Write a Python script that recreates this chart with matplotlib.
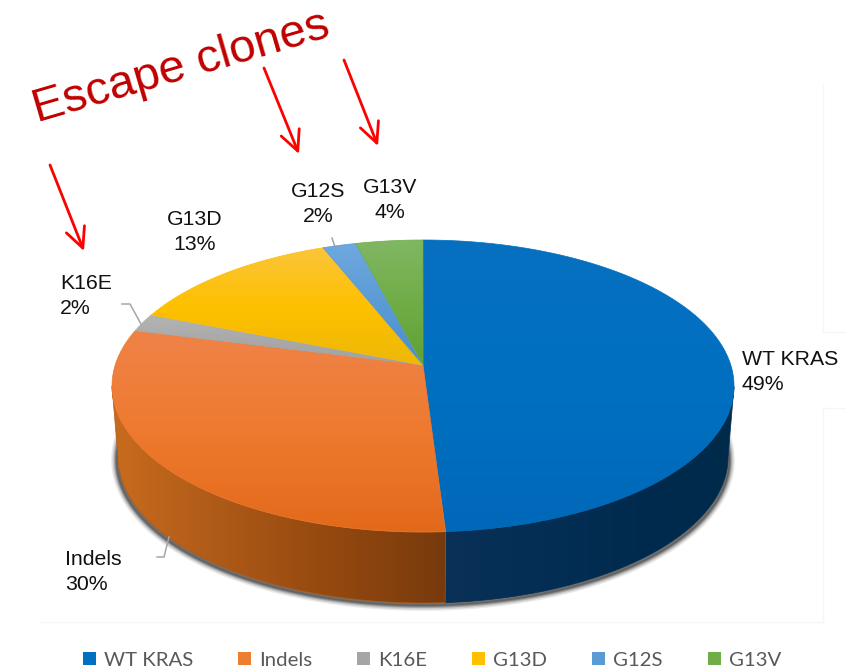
import numpy as np
import matplotlib
matplotlib.use("Agg")
import matplotlib.pyplot as plt
from matplotlib.colors import LinearSegmentedColormap, to_rgb
from matplotlib.patches import Patch, Polygon

plt.rcParams["font.family"] = ["Liberation Sans"]

# Share of clones per KRAS status, percent
categories = ["WT KRAS", "Indels", "K16E", "G13D", "G12S", "G13V"]
percents = [49, 30, 2, 13, 2, 4]

# Slice colours for the top face: light edge, mid, shaded edge
top_colors = [
    ["#076FC1", "#0070C0", "#0068B8"],
    ["#EF8348", "#EE7A2F", "#E3691A"],
    ["#B4B4B4", "#A9A9A9", "#A2A2A2"],
    ["#FBC53C", "#FFC000", "#EDB807"],
    ["#6FA8DF", "#5B9BD5", "#4C8DCB"],
    ["#80B763", "#70AD47", "#5FA034"],
]
legend_colors = ["#0070C0", "#ED7D31", "#A5A5A5", "#FFC000", "#5B9BD5", "#70AD47"]
side_colors = {
    0: ["#0A3158", "#042E54", "#002B4E", "#002A4A"],
    1: ["#C86C1E", "#AD5917", "#93480F", "#773A0D"],
}

# Pie geometry in figure pixels
CX, CY, RX, RY = 423.0, 386.0, 311.0, 146.0
DEPTH, BOTTOM_RX = 71.0, 305.0
TILT = 0.144  # how far the perspective lifts the hub above the ellipse centre


def project(frac):
    """Map a clockwise fraction of the turn to unit-ellipse coordinates."""
    t = 2 * np.pi * np.asarray(frac, dtype=float)
    u0, v0 = np.sin(t), np.cos(t)
    den = 1 + TILT * v0
    return u0 * np.sqrt(1 - TILT ** 2) / den, (v0 + TILT) / den


def rim(frac, rx=RX, dy=0.0):
    u, v = project(frac)
    return np.column_stack([CX + rx * u, CY + dy - RY * v])


def gradient_fill(ax, verts, stops, axis, zorder):
    """Fill a polygon with a linear colour ramp along x or y."""
    patch = Polygon(verts, closed=True, facecolor="none", edgecolor="none", zorder=zorder)
    ax.add_patch(patch)
    lo, hi = verts.min(axis=0), verts.max(axis=0)
    ramp = np.linspace(0, 1, 256)
    data = ramp[None, :] if axis == "x" else ramp[:, None]
    cmap = LinearSegmentedColormap.from_list("ramp", [to_rgb(c) for c in stops])
    img = ax.imshow(data, cmap=cmap, vmin=0, vmax=1, aspect="auto", origin="upper",
                    extent=(lo[0], hi[0], hi[1], lo[1]), zorder=zorder,
                    interpolation="bilinear")
    img.set_clip_path(patch)
    ax.add_patch(Polygon(verts, closed=True, fill=False, edgecolor=stops[1],
                         linewidth=0.5, zorder=zorder))


fig = plt.figure(figsize=(8.46, 6.71), dpi=100, facecolor="white")
ax = fig.add_axes([0, 0, 1, 1])

# Faint panel edges behind the chart
for xs, ys in [((823, 823), (85, 332)), ((823, 846), (332, 332)),
               ((823, 846), (408, 408)), ((823, 823), (408, 622)),
               ((40, 823), (622, 622))]:
    ax.plot(xs, ys, color="#F6F6F6", linewidth=1, zorder=0)

fractions = np.cumsum([0] + percents) / sum(percents)

# Soft drop shadow around the base of the pie
turn = np.linspace(0, 1, 721)
base = rim(turn, BOTTOM_RX + 2, DEPTH + 3)
for width, alpha in [(7, 0.12), (5, 0.2), (3, 0.34), (1.5, 0.5)]:
    ax.add_patch(Polygon(base, closed=True, facecolor="#5A5A5A", edgecolor="#5A5A5A",
                         linewidth=width, alpha=alpha, zorder=1))

# Front wall of the two slices that face the viewer
for i, stops in side_colors.items():
    f = np.linspace(fractions[i], fractions[i + 1], 300)
    f = f[project(f)[1] <= 0]
    upper = rim(f)
    lower = rim(f, BOTTOM_RX, DEPTH)
    verts = np.vstack([upper, lower[::-1]])
    gradient_fill(ax, verts, stops, "x", 2)

# Top face, one slice at a time
hub = np.array([[CX, CY - RY * TILT]])
for i in range(len(percents)):
    f = np.linspace(fractions[i], fractions[i + 1], 300)
    verts = np.vstack([hub, rim(f)])
    gradient_fill(ax, verts, top_colors[i], "y", 3)

# Leader lines
leaders = [
    ([122, 130, 141], [304, 304, 324]),
    ([332, 335], [238, 247]),
    ([157, 164, 169], [557, 557, 537]),
]
for xs, ys in leaders:
    ax.plot(xs, ys, color="#A6A6A6", linewidth=1.1, zorder=2)

# Slice labels
label_spots = {
    "WT KRAS": (742, 372, "left"),
    "Indels": (65, 572, "left"),
    "K16E": (60, 296, "left"),
    "G13D": (195, 232, "center"),
    "G12S": (318, 204, "center"),
    "G13V": (390, 200, "center"),
}
for name, pct in zip(categories, percents):
    x, y, ha = label_spots[name]
    ax.text(x, y, f"{name}\n{pct}%", ha=ha, va="center", multialignment=ha,
            fontsize=15.3, color="#111111", linespacing=1.38, zorder=5)

# Annotation heading and its arrows
ax.text(37, 122, "Escape clones", fontsize=34, color="#C00000", rotation=16.3,
        rotation_mode="anchor", ha="left", va="baseline", zorder=5)
arrows = [((50, 165), (84, 251)), ((264, 68), (299, 154)), ((344, 60), (378, 146))]
for start, tip in arrows:
    ax.annotate("", xy=tip, xytext=start, zorder=5,
                arrowprops=dict(arrowstyle="->,head_length=1.45,head_width=0.7",
                                mutation_scale=10, color="#FF0000", linewidth=2,
                                shrinkA=0, shrinkB=0))

# Legend strip along the bottom
handles = [Patch(facecolor=c, edgecolor="none", label=n)
           for c, n in zip(legend_colors, categories)]
leg = ax.legend(handles=handles, ncol=6, loc="center", frameon=False,
                bbox_to_anchor=(432 / 846, 1 - 660 / 671),
                prop=dict(family="Lato", size=14.7), labelcolor="#595959",
                handlelength=0.64, handleheight=0.64, handletextpad=0.39,
                columnspacing=2.2, borderpad=0, borderaxespad=0)

ax.set_xlim(0, 846)
ax.set_ylim(671, 0)
ax.axis("off")
fig.savefig("out.png", dpi=100, facecolor="white")
